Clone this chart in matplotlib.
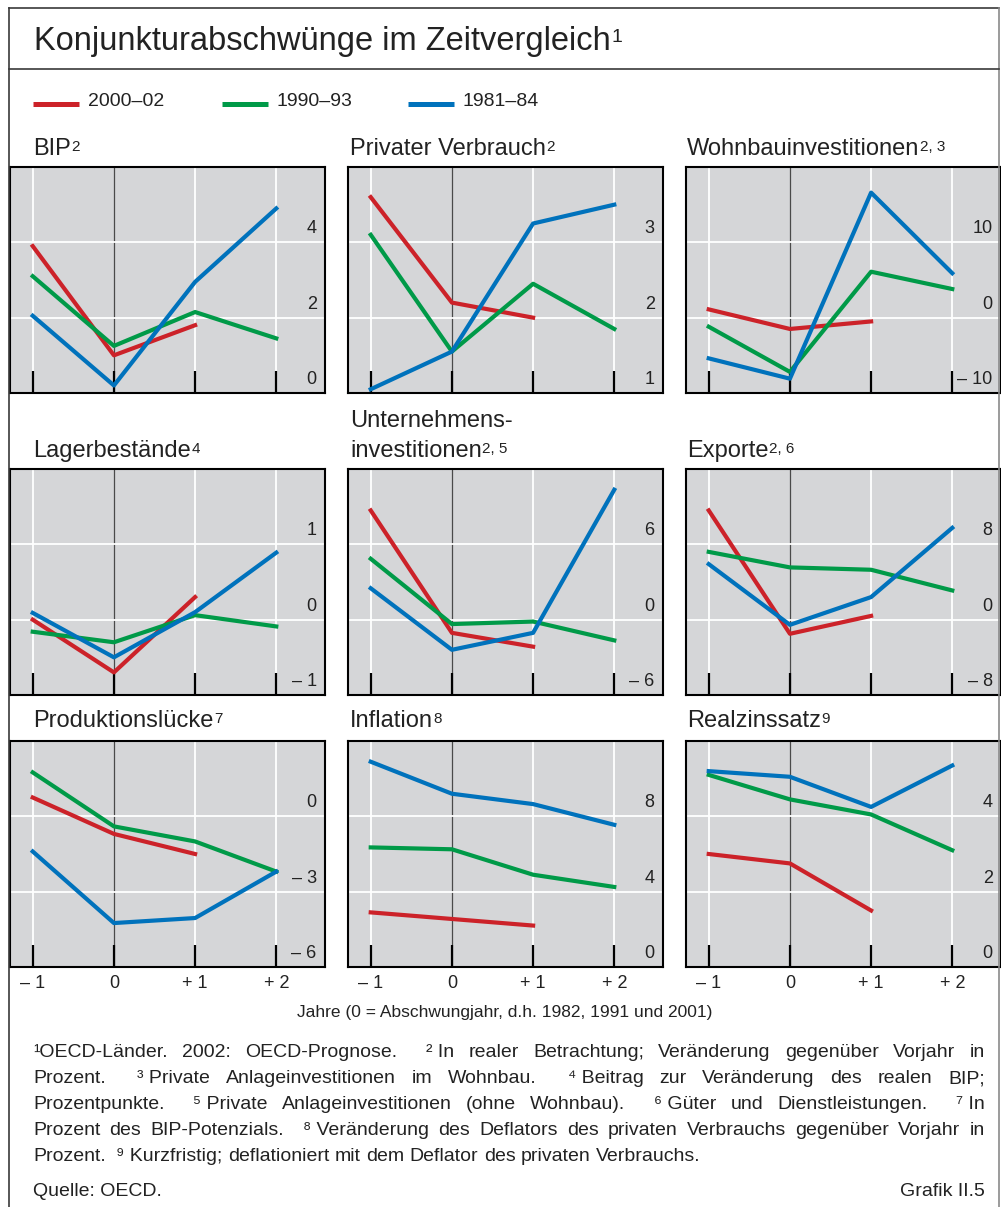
import matplotlib
matplotlib.use('Agg')
import matplotlib.pyplot as plt

plt.rcParams['font.family'] = ['Liberation Sans', 'DejaVu Sans']

# x positions: years relative to the downturn year
years = [-1, 0, 1, 2]
xtick_labels = ['– 1', '0', '+ 1', '+ 2']

titles = ['BIP', 'Privater Verbrauch', 'Wohnbauinvestitionen',
          'Lagerbestände', 'Unternehmens-\ninvestitionen', 'Exporte',
          'Produktionslücke', 'Inflation', 'Realzinssatz']
title_sups = ['2', '2', '2, 3', '4', '2, 5', '2, 6', '7', '8', '9']

# 2000–02 (only -1, 0, +1)
s2000 = [
    [3.9, 1.0, 1.8],
    [3.6, 2.2, 2.0],
    [1.1, -1.5, -0.5],
    [0.0, -0.7, 0.3],
    [8.7, -1.05, -2.15],
    [11.6, -1.5, 0.4],
    [0.75, -0.7, -1.5],
    [2.9, 2.55, 2.2],
    [3.0, 2.75, 1.5],
]
# 1990–93
s1990 = [
    [3.1, 1.25, 2.15, 1.45],
    [3.1, 1.55, 2.45, 1.85],
    [-1.2, -7.2, 6.1, 3.8],
    [-0.16, -0.3, 0.06, -0.09],
    [4.85, -0.35, -0.15, -1.65],
    [7.2, 5.55, 5.3, 3.1],
    [1.75, -0.4, -1.0, -2.2],
    [6.35, 6.25, 4.9, 4.25],
    [5.1, 4.45, 4.05, 3.1],
]
# 1981–84
s1981 = [
    [2.05, 0.2, 2.95, 4.9],
    [1.05, 1.55, 3.25, 3.5],
    [-5.4, -8.1, 16.6, 5.9],
    [0.09, -0.5, 0.1, 0.89],
    [2.5, -2.4, -1.05, 10.35],
    [5.9, -0.55, 2.4, 9.75],
    [-1.4, -4.25, -4.05, -2.2],
    [10.9, 9.2, 8.65, 7.55],
    [5.2, 5.05, 4.25, 5.35],
]

yticks = [[0, 2, 4], [1, 2, 3], [-10, 0, 10],
          [-1, 0, 1], [-6, 0, 6], [-8, 0, 8],
          [-6, -3, 0], [0, 4, 8], [0, 2, 4]]
ytops = [6, 4, 20, 2, 12, 16, 3, 12, 6]

legend_labels = ['2000–02', '1990–93', '1981–84']

footnotes = [
    '¹OECD-Länder. 2002: OECD-Prognose.  ²\u00a0In realer Betrachtung; Veränderung gegenüber Vorjahr in',
    'Prozent.  ³\u00a0Private Anlageinvestitionen im Wohnbau.  ⁴\u00a0Beitrag zur Veränderung des realen BIP;',
    'Prozentpunkte.  ⁵\u00a0Private Anlageinvestitionen (ohne Wohnbau).  ⁶\u00a0Güter und Dienstleistungen.  ⁷\u00a0In',
    'Prozent des BIP-Potenzials.  ⁸\u00a0Veränderung des Deflators des privaten Verbrauchs gegenüber Vorjahr in',
    'Prozent.  ⁹\u00a0Kurzfristig; deflationiert mit dem Deflator des privaten Verbrauchs.',
]

RED = '#cc2229'
GREEN = '#009a48'
BLUE = '#0072bc'
BG = '#d5d6d8'
TXT = '#222222'
colors = [RED, GREEN, BLUE]

W, H = 1001, 1207
fig = plt.figure(figsize=(W / 100, H / 100), dpi=100)

col_x = [10, 348, 686]
row_top = [167, 469, 741]
panel_w, panel_h = 315, 226


def ylab(v):
    if v < 0:
        return '– %d' % -v
    return '%d' % v


for i in range(9):
    r, c = divmod(i, 3)
    x0, y0 = col_x[c], row_top[r]
    ax = fig.add_axes([x0 / W, 1 - (y0 + panel_h) / H, panel_w / W, panel_h / H])
    ax.set_facecolor(BG)
    ax.set_xlim(-1.28, 2.6)
    ax.set_ylim(yticks[i][0], ytops[i])

    for x in [-1, 1, 2]:
        ax.axvline(x, color='white', lw=1.3, zorder=1)
    ax.axvline(0, color='#4a4a4a', lw=0.9, zorder=1)
    for v in yticks[i][1:]:
        ax.axhline(v, color='white', lw=1.3, zorder=1)

    ax.plot(years[:3], s2000[i], color=RED, lw=3, zorder=3)
    ax.plot(years, s1990[i], color=GREEN, lw=3, zorder=3)
    ax.plot(years, s1981[i], color=BLUE, lw=3, zorder=3)

    for v in yticks[i]:
        ax.annotate(ylab(v), xy=(1, v), xycoords=('axes fraction', 'data'),
                    xytext=(-6, 3.5), textcoords='offset points',
                    ha='right', va='bottom', fontsize=13, color=TXT,
                    bbox=dict(boxstyle='square,pad=0.1', fc=BG, ec='none'),
                    zorder=4)

    ax.set_xticks(years)
    ax.tick_params(axis='x', direction='in', length=16, width=1.6,
                   color='black', pad=6, labelsize=13, labelcolor=TXT,
                   labelbottom=(r == 2))
    if r == 2:
        ax.set_xticklabels(xtick_labels)
    ax.tick_params(axis='y', left=False, labelleft=False)
    for sp in ax.spines.values():
        sp.set_linewidth(1.5)
        sp.set_color('black')

# overlay in pixel coordinates for frame and texts
ov = fig.add_axes([0, 0, 1, 1], zorder=10)
ov.set_xlim(0, W)
ov.set_ylim(H, 0)
ov.axis('off')

FR = '#3a3a3a'
ov.plot([9, 9], [8, H], color=FR, lw=1.2, clip_on=False)
ov.plot([9, 999], [8, 8], color=FR, lw=1.2, clip_on=False)
ov.plot([999, 999], [8, H], color='#8a8a8a', lw=1.2, clip_on=False)
ov.plot([9, 999], [69, 69], color=FR, lw=1.2, clip_on=False)


def sup_text(x, y, main, sup, size, supsize):
    t = ov.text(x, y, main, fontsize=size, va='baseline', ha='left', color=TXT)
    if sup:
        ov.annotate(sup, xy=(1, 1), xycoords=t, xytext=(0.3, -0.19 * (size - supsize)),
                    textcoords='offset points', ha='left', va='top',
                    fontsize=supsize, color=TXT)
    return t


sup_text(34, 50, 'Konjunkturabschwünge im Zeitvergleich', '1', 23.5, 14)

# legend
leg_x = [33, 222, 408]
for lx, col, lab in zip(leg_x, colors, legend_labels):
    ov.plot([lx, lx + 46], [104, 104], color=col, lw=3.6, solid_capstyle='butt')
    ov.text(lx + 55, 101, lab, fontsize=14, va='center', ha='left', color=TXT)

# panel titles
title_x = [33, 350, 687]
title_base = [155, 457, 727]
for i in range(9):
    r, c = divmod(i, 3)
    lines = titles[i].split('\n')
    base = title_base[r] - 30 * (len(lines) - 1)
    for k, ln in enumerate(lines):
        last = k == len(lines) - 1
        sup_text(title_x[c], base + 30 * k, ln, title_sups[i] if last else '', 17, 11)

ov.text(505, 1012, 'Jahre (0 = Abschwungjahr, d.h. 1982, 1991 und 2001)',
        ha='center', va='center', fontsize=12.5, color=TXT)

# footnotes, justified
renderer = fig.canvas.get_renderer()
left, right = 33, 985


def text_width(s, size):
    t = ov.text(0, 0, s, fontsize=size)
    w = t.get_window_extent(renderer).width
    t.remove()
    return w


# pick a size so the longest line just fits
widest = max(text_width(ln.replace('  ', ' '), 12) for ln in footnotes[:-1])
fs = min(14, 12 * (right - left - 8) / widest)
space_w = text_width('a a', fs) - text_width('aa', fs)

fn_base = [1057, 1083, 1109, 1135, 1161]
for li, (line, y) in enumerate(zip(footnotes, fn_base)):
    parts = line.split(' ')
    words, weights = [], []
    gap = 0
    for p in parts:
        if p == '':
            gap += 1
            continue
        if words:
            weights.append(gap + 1)
        words.append(p)
        gap = 0
    widths = [text_width(wd, fs) for wd in words]
    if li < len(footnotes) - 1:
        unit = (right - left - sum(widths)) / sum(weights)
    else:
        unit = space_w
    x = left
    for k, wd in enumerate(words):
        ov.text(x, y, wd, fontsize=fs, va='baseline', ha='left', color=TXT)
        x += widths[k]
        if k < len(weights):
            x += unit * weights[k]

ov.text(33, 1196, 'Quelle: OECD.', fontsize=fs, va='baseline', ha='left', color=TXT)
ov.text(985, 1196, 'Grafik II.5', fontsize=fs, va='baseline', ha='right', color=TXT)

fig.savefig('out.png', dpi=100)
